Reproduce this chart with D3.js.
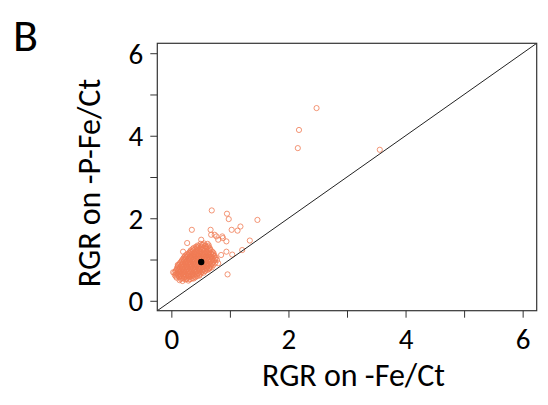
<!DOCTYPE html>
<meta charset="utf-8">
<style>
body { margin: 0; background: #fff; }
svg { display: block; }
.chart text { font-family: Carlito, Calibri, Lato, sans-serif; fill: #000; }
.tick line { stroke: #333; stroke-width: 1; }
</style>
<svg class="chart" width="548" height="405"></svg>
<script src="https://cdn.jsdelivr.net/npm/d3@7"></script>
<script>

// axis ticks
var xTicks = [0, 1, 2, 3, 4, 5, 6];
var yTicks = [0, 1, 2, 3, 4, 5, 6];

// the dense bunch of genotypes, [RGR on -Fe/Ct, RGR on -P-Fe/Ct]
var cluster = [
  [0.14,0.50],[0.19,0.48],[0.24,0.52],[0.29,0.49],[0.33,0.53],
  [0.16,0.53],[0.21,0.54],[0.26,0.53],[0.31,0.52],[0.38,0.54],
  [0.09,0.56],[0.13,0.58],[0.18,0.55],[0.22,0.57],[0.27,0.56],[0.31,0.58],[0.36,0.55],[0.41,0.57],
  [0.08,0.59],[0.16,0.60],[0.20,0.59],[0.25,0.60],[0.29,0.59],[0.34,0.60],[0.39,0.59],[0.44,0.60],
  [0.06,0.62],[0.11,0.63],[0.15,0.61],[0.20,0.64],[0.25,0.62],[0.29,0.61],[0.34,0.63],[0.38,0.62],[0.43,0.64],[0.48,0.61],
  [0.08,0.65],[0.13,0.66],[0.17,0.65],[0.22,0.66],[0.27,0.65],[0.31,0.66],[0.36,0.65],[0.40,0.66],[0.45,0.65],[0.50,0.66],
  [0.05,0.68],[0.10,0.67],[0.14,0.69],[0.19,0.68],[0.23,0.70],[0.28,0.67],[0.32,0.69],[0.37,0.68],[0.41,0.70],[0.46,0.67],[0.51,0.69],[0.55,0.68],
  [0.07,0.71],[0.12,0.72],[0.16,0.71],[0.21,0.72],[0.25,0.71],[0.30,0.72],[0.34,0.71],[0.39,0.72],[0.43,0.71],[0.48,0.72],[0.53,0.71],[0.57,0.72],
  [0.08,0.74],[0.12,0.75],[0.17,0.73],[0.21,0.74],[0.26,0.76],[0.30,0.73],[0.35,0.74],[0.39,0.75],[0.44,0.73],[0.48,0.76],[0.53,0.74],[0.58,0.73],[0.62,0.75],
  [0.10,0.77],[0.14,0.78],[0.19,0.77],[0.23,0.78],[0.28,0.77],[0.32,0.78],[0.37,0.77],[0.41,0.78],[0.46,0.77],[0.50,0.78],[0.55,0.77],[0.60,0.78],[0.64,0.77],
  [0.10,0.80],[0.15,0.81],[0.19,0.79],[0.24,0.80],[0.28,0.82],[0.33,0.79],[0.37,0.80],[0.42,0.81],[0.46,0.79],[0.51,0.80],[0.55,0.82],[0.60,0.79],[0.65,0.80],[0.69,0.81],
  [0.11,0.83],[0.17,0.84],[0.21,0.83],[0.26,0.84],[0.30,0.83],[0.35,0.84],[0.39,0.83],[0.44,0.84],[0.48,0.83],[0.53,0.84],[0.57,0.83],[0.62,0.84],[0.67,0.83],
  [0.12,0.86],[0.17,0.87],[0.22,0.85],[0.26,0.86],[0.31,0.88],[0.35,0.85],[0.40,0.86],[0.44,0.87],[0.49,0.85],[0.53,0.86],[0.58,0.88],[0.62,0.85],[0.67,0.86],[0.72,0.87],
  [0.14,0.89],[0.19,0.90],[0.24,0.89],[0.28,0.90],[0.33,0.89],[0.37,0.90],[0.42,0.89],[0.46,0.90],[0.51,0.89],[0.55,0.90],[0.60,0.89],[0.64,0.90],[0.69,0.89],
  [0.15,0.92],[0.20,0.93],[0.24,0.91],[0.29,0.92],[0.33,0.94],[0.38,0.91],[0.42,0.92],[0.47,0.93],[0.56,0.91],[0.60,0.92],[0.65,0.94],[0.70,0.91],[0.75,0.92],
  [0.17,0.95],[0.22,0.96],[0.26,0.95],[0.31,0.96],[0.35,0.95],[0.40,0.96],[0.44,0.95],[0.58,0.96],[0.62,0.95],[0.67,0.96],[0.72,0.95],
  [0.18,0.98],[0.22,0.99],[0.27,0.97],[0.31,0.98],[0.36,1.00],[0.40,0.97],[0.45,0.98],[0.50,0.99],[0.54,0.97],[0.59,0.98],[0.63,1.00],[0.68,0.97],[0.73,0.98],[0.78,0.99],
  [0.20,1.01],[0.24,1.02],[0.29,1.01],[0.33,1.02],[0.38,1.01],[0.42,1.02],[0.47,1.01],[0.52,1.02],[0.56,1.01],[0.61,1.02],[0.65,1.01],[0.70,1.02],[0.75,1.01],
  [0.21,1.04],[0.25,1.05],[0.30,1.03],[0.34,1.04],[0.39,1.06],[0.43,1.03],[0.48,1.04],[0.52,1.05],[0.57,1.03],[0.61,1.04],[0.66,1.06],[0.71,1.03],[0.76,1.04],
  [0.23,1.07],[0.27,1.08],[0.32,1.07],[0.36,1.08],[0.41,1.07],[0.45,1.08],[0.50,1.07],[0.54,1.08],[0.59,1.07],[0.63,1.08],[0.68,1.07],[0.73,1.08],
  [0.24,1.10],[0.29,1.11],[0.33,1.09],[0.38,1.10],[0.42,1.12],[0.47,1.09],[0.51,1.10],[0.56,1.11],[0.60,1.09],[0.65,1.10],[0.70,1.12],[0.74,1.09],
  [0.27,1.13],[0.31,1.14],[0.36,1.13],[0.40,1.14],[0.45,1.13],[0.49,1.14],[0.54,1.13],[0.58,1.14],[0.63,1.13],[0.68,1.14],[0.72,1.13],
  [0.30,1.16],[0.34,1.17],[0.39,1.15],[0.43,1.16],[0.48,1.18],[0.52,1.15],[0.57,1.16],[0.62,1.17],[0.67,1.15],[0.72,1.16],
  [0.32,1.19],[0.36,1.20],[0.41,1.19],[0.45,1.20],[0.50,1.19],[0.55,1.20],[0.60,1.19],[0.65,1.20],[0.70,1.19],
  [0.33,1.22],[0.38,1.23],[0.43,1.21],[0.47,1.22],[0.52,1.24],[0.57,1.21],[0.62,1.22],[0.67,1.23],
  [0.36,1.25],[0.41,1.26],[0.45,1.25],[0.50,1.26],[0.55,1.25],[0.60,1.26],[0.65,1.25],
  [0.38,1.28],[0.44,1.29],[0.49,1.27],[0.55,1.28],[0.60,1.30],[0.66,1.27],
  [0.42,1.31],[0.47,1.32],[0.52,1.31],[0.58,1.32],[0.63,1.31],
  [0.45,1.34],[0.52,1.35],[0.58,1.33],[0.64,1.34],
  [0.50,1.38],[0.56,1.39],[0.62,1.38]
];

// scattered genotypes around the bunch and the far ones
var scattered = [
  [0.69,2.19],[0.95,2.11],[0.98,1.98],[1.47,1.96],[0.35,1.72],[0.67,1.72],[1.03,1.72],
  [1.13,1.70],[1.18,1.80],[1.34,1.46],[1.21,1.23],[1.04,1.12],[0.96,0.64],[0.27,1.40],
  [0.20,1.19],[0.03,0.69],[0.51,1.48],[0.77,1.56],[0.87,1.56],[0.94,1.44],[0.80,1.48],
  [0.68,1.60],[0.54,1.36],[0.94,1.19],[0.85,1.11],[0.11,0.87],[0.14,0.59],[0.26,0.83],
  [0.48,0.63],[0.65,0.79],[0.80,0.91],[0.74,1.60],[0.88,1.52],
  [2.48,4.67],[2.18,4.14],[2.16,3.70],[3.56,3.66]
];

// reference genotype (black dot)
var reference = [[0.51, 0.94]];

var svg = d3.select(".chart");

var plotLeft = 157.3, plotRight = 536.7, plotTop = 43.3, plotBottom = 310.7;

var x = d3.scaleLinear().domain([-0.24, 6.24]).range([plotLeft, plotRight]);
var y = d3.scaleLinear().domain([-0.24, 6.24]).range([plotBottom, plotTop]);

svg.append("defs").append("clipPath").attr("id", "plotclip")
  .append("rect")
  .attr("x", plotLeft).attr("y", plotTop)
  .attr("width", plotRight - plotLeft).attr("height", plotBottom - plotTop);

// x axis
var xAxis = svg.append("g")
  .attr("transform", "translate(0," + plotBottom + ")")
  .call(d3.axisBottom(x).tickValues(xTicks).tickSize(7).tickPadding(11)
    .tickFormat(function(d) { return d % 2 === 0 ? d : ""; }));
xAxis.select(".domain").remove();
xAxis.selectAll("text").style("font-size", "29px").attr("dy", "0.7em");

// y axis
var yAxis = svg.append("g")
  .attr("transform", "translate(" + plotLeft + ",0)")
  .call(d3.axisLeft(y).tickValues(yTicks).tickSize(7).tickPadding(7)
    .tickFormat(function(d) { return d % 2 === 0 ? d : ""; }));
yAxis.select(".domain").remove();
yAxis.selectAll("text").style("font-size", "29px").attr("dy", "0.34em");

// points
var plot = svg.append("g").attr("clip-path", "url(#plotclip)");

plot.selectAll("circle.pt")
  .data(cluster.concat(scattered))
  .enter().append("circle")
  .attr("class", "pt")
  .attr("cx", function(d) { return x(d[0]); })
  .attr("cy", function(d) { return y(d[1]); })
  .attr("r", 2.6)
  .attr("fill", "none")
  .attr("stroke", "#f07c55")
  .attr("stroke-opacity", 0.8)
  .attr("stroke-width", 1);

// 1:1 line
plot.append("line")
  .attr("x1", x(-0.24)).attr("y1", y(-0.24))
  .attr("x2", x(6.24)).attr("y2", y(6.24))
  .attr("stroke", "#222")
  .attr("stroke-width", 1);

plot.selectAll("circle.ref")
  .data(reference)
  .enter().append("circle")
  .attr("class", "ref")
  .attr("cx", function(d) { return x(d[0]); })
  .attr("cy", function(d) { return y(d[1]); })
  .attr("r", 3.2)
  .attr("fill", "#000");

// box
svg.append("rect")
  .attr("x", plotLeft).attr("y", plotTop)
  .attr("width", plotRight - plotLeft).attr("height", plotBottom - plotTop)
  .attr("fill", "none")
  .attr("stroke", "#333")
  .attr("stroke-width", 1.2);

// titles
svg.append("text")
  .attr("x", 353.5)
  .attr("y", 386)
  .attr("text-anchor", "middle")
  .style("font-size", "32px")
  .text("RGR on -Fe/Ct");

svg.append("text")
  .attr("transform", "translate(100,183) rotate(-90)")
  .attr("text-anchor", "middle")
  .style("font-size", "32px")
  .text("RGR on -P-Fe/Ct");

svg.append("text")
  .attr("x", 13)
  .attr("y", 51)
  .style("font-size", "46px")
  .text("B");

</script>
